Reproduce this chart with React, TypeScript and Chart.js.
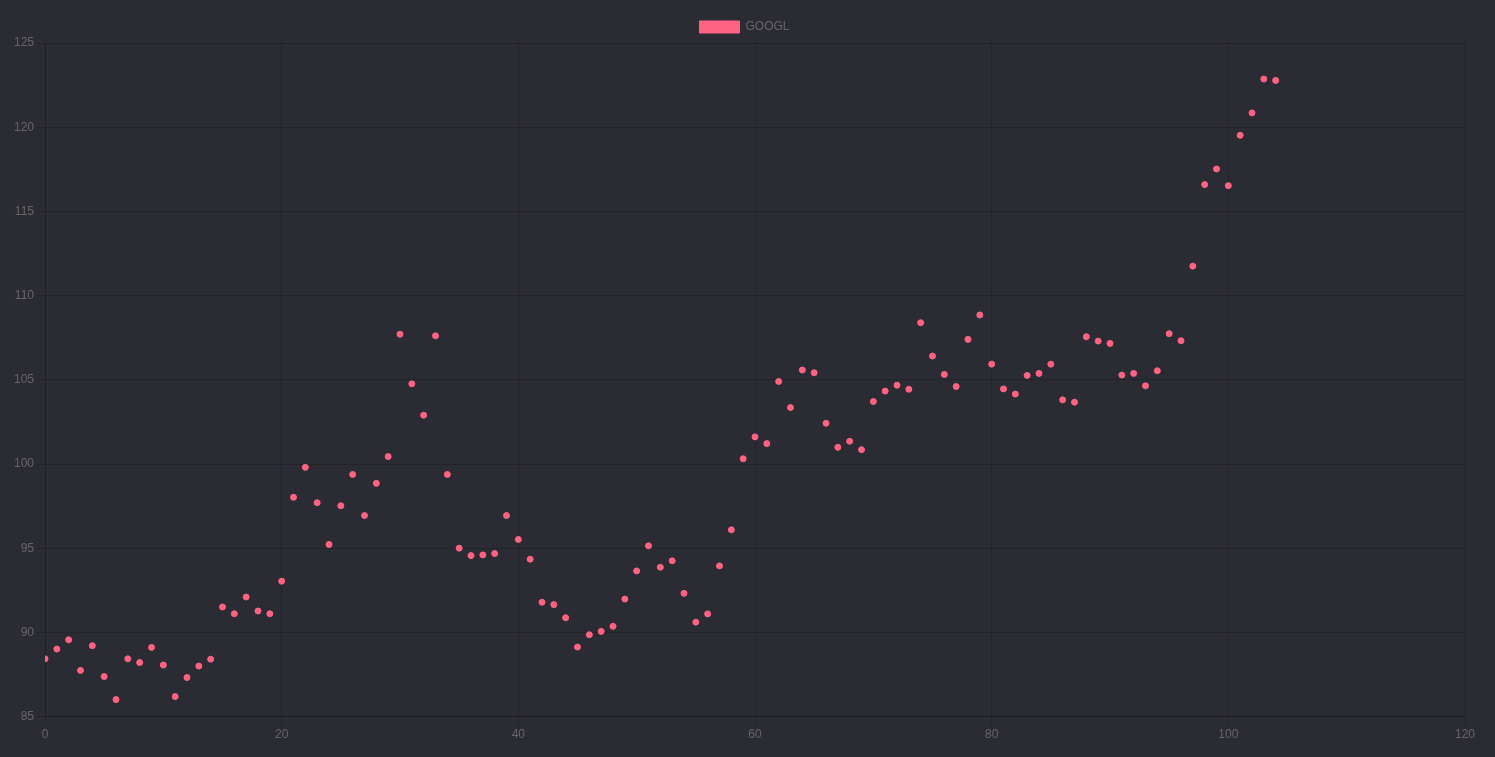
import React, { useEffect, useRef } from "react";
import { Chart, registerables } from "chart.js";

Chart.register(...registerables);

const seriesLabel = "GOOGL";
const xValues: number[] = Array.from({ length: 105 }, (_, i) => i);
const prices: number[] = [
  88.43, 89.01, 89.56, 87.74, 89.21, 87.38, 86.01, 88.43, 88.21, 89.11,
  88.06, 86.19, 87.32, 88.0, 88.41, 91.51, 91.11, 92.1, 91.27, 91.11,
  93.04, 98.02, 99.8, 97.7, 95.22, 97.52, 99.38, 96.94, 98.85, 100.44,
  107.71, 104.76, 102.9, 107.61, 99.38, 95.0, 94.56, 94.6, 94.68, 96.94,
  95.52, 94.35, 91.79, 91.65, 90.87, 89.13, 89.86, 90.06, 90.36, 91.98,
  93.65, 95.14, 93.87, 94.25, 92.32, 90.61, 91.1, 93.95, 96.09, 100.31,
  101.61, 101.21, 104.9, 103.35, 105.58, 105.42, 102.42, 100.99, 101.35, 100.85,
  103.71, 104.33, 104.68, 104.44, 108.39, 106.41, 105.32, 104.6, 107.4, 108.85,
  105.93, 104.46, 104.15, 105.26, 105.38, 105.93, 103.81, 103.67, 107.56, 107.3,
  107.16, 105.28, 105.38, 104.64, 105.54, 107.74, 107.32, 111.75, 116.59, 117.52,
  116.53, 119.52, 120.85, 122.86, 122.78,
];
const xTicks = { min: 0, max: 120, step: 20 };
const yTicks = { min: 85, max: 125, step: 5 };

const BG = "#2b2b33";
const POINT = "#ff6384";
const TEXT = "#666666";
const GRID = "rgba(0,0,0,0.18)";
const FONT = "Arial, 'Liberation Sans', sans-serif";

const legendShift = {
  id: "legendShift",
  afterLayout(chart: any) {
    const lg = chart.legend;
    if (lg) {
      lg.left += 6;
      lg.right += 6;
    }
  },
};

export default function App() {
  const ref = useRef<HTMLCanvasElement | null>(null);
  useEffect(() => {
    document.body.style.margin = "0";
    document.body.style.background = BG;
    if (!ref.current) return;
    const chart = new Chart(ref.current, {
      type: "scatter",
      data: {
        datasets: [
          {
            label: seriesLabel,
            data: xValues.map((x, i) => ({ x, y: prices[i] })),
            backgroundColor: POINT,
            borderColor: POINT,
            pointRadius: 3,
            pointBorderWidth: 1,
          },
        ],
      },
      options: {
        animation: false,
        responsive: true,
        maintainAspectRatio: false,
        layout: { padding: { top: 11, left: 12, right: 30, bottom: 12 } },
        font: { family: FONT, size: 12 },
        plugins: {
          legend: {
            display: true,
            position: "top",
            labels: {
              color: TEXT,
              boxWidth: 40,
              boxHeight: 12,
              font: { family: FONT, size: 12 },
            },
          },
          tooltip: { enabled: false },
        },
        scales: {
          x: {
            type: "linear",
            min: xTicks.min,
            max: xTicks.max,
            ticks: { stepSize: xTicks.step, color: TEXT, font: { family: FONT, size: 12 } },
            grid: { color: GRID, tickColor: GRID },
            border: { color: GRID },
          },
          y: {
            type: "linear",
            min: yTicks.min,
            max: yTicks.max,
            afterFit: (scale: any) => {
              scale.width = 33;
            },
            ticks: { stepSize: yTicks.step, color: TEXT, font: { family: FONT, size: 12 } },
            grid: { color: GRID, tickColor: GRID },
            border: { color: GRID },
          },
        },
      },
      plugins: [legendShift],
    });
    return () => chart.destroy();
  }, []);
  return (
    <div style={{ position: "fixed", inset: 0, background: BG }}>
      <div style={{ position: "relative", width: "100%", height: "100%" }}>
        <canvas ref={ref} />
      </div>
    </div>
  );
}
